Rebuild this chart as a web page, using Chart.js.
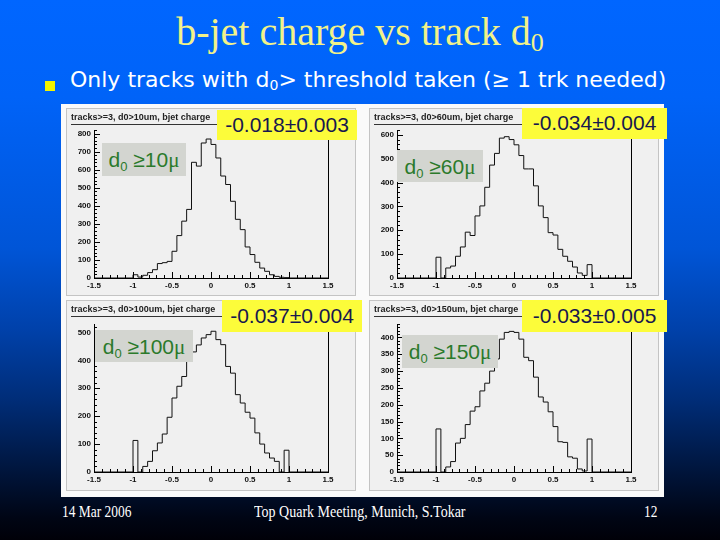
<!DOCTYPE html>
<html lang="en">
<head>
<meta charset="UTF-8" />
<title>b-jet charge vs track d0</title>
<script src="https://cdn.jsdelivr.net/npm/chart.js"></script>
<style>
    body { margin: 0; }
    #slide {
        position: relative; width: 720px; height: 540px; overflow: hidden;
        background: linear-gradient(to bottom, #0066ff 0%, #0063f8 18%, #0055d7 46%, #0041aa 61%, #002d78 74%, #001946 85%, #000514 96%, #000008 100%);
        font-family: "Liberation Sans", Arial, sans-serif;
    }
    .abs { position: absolute; }
    #title {
        left: 0; width: 720px; top: 8px; text-align: center;
        font-family: "Liberation Serif", serif; font-size: 40px; color: #f2f28a;
    }
    #title sub { font-size: 26px; vertical-align: -6px; }
    #bullet { left: 45px; top: 81px; width: 10px; height: 10px; background: #f4f400; }
    #bulletText { left: 70px; top: 67px; font-family: "DejaVu Sans", sans-serif; font-size: 22px; color: #fff; white-space: nowrap; }
    #bulletText sub { font-size: 14px; vertical-align: -3px; }
    #frame { left: 61px; top: 104px; width: 603px; height: 393px; background: #fafafa; }
    .panel { background: #f0f0f0; border: 1px solid #c4c4c4; box-sizing: border-box; }
    .panel canvas { position: absolute; left: 0; top: 0; }
    .ptitle {
        position: absolute; left: 4px; top: 3px; width: 190px; border-bottom: 1px solid #333;
        font-size: 9px; font-weight: bold; color: #222; padding-bottom: 2px; white-space: nowrap;
    }
    .yl { background: #fcfc3a; color: #18184e; font-size: 21px; text-align: center; line-height: 30px; }
    .gl { background: #d3d5d0; color: #2b7a2b; font-size: 21px; text-align: center; line-height: 33px; white-space: nowrap; }
    .gl sub { font-size: 13px; vertical-align: -4px; }
    .gl i { font-style: normal; font-family: "Liberation Serif", serif; }
    .foot { top: 503px; font-family: "Liberation Serif", serif; font-size: 16px; color: #fff; white-space: nowrap; transform-origin: left top; transform: scaleX(0.84); }
</style>
</head>
<body>
<div id="slide">
    <div id="title" class="abs">b-jet charge vs track d<sub>0</sub></div>
    <div id="bullet" class="abs"></div>
    <div id="bulletText" class="abs">Only tracks with d<sub>0</sub>&gt; threshold taken (&ge; 1 trk needed)</div>
    <div id="frame" class="abs"></div>

    <div class="abs panel" style="left:66px;top:108px;width:290px;height:188px;">
        <canvas id="c1" width="290" height="188"></canvas>
        <div class="ptitle">tracks&gt;=3, d0&gt;10um, bjet charge</div>
    </div>
    <div class="abs panel" style="left:369px;top:108px;width:290px;height:188px;">
        <canvas id="c2" width="290" height="188"></canvas>
        <div class="ptitle">tracks&gt;=3, d0&gt;60um, bjet charge</div>
    </div>
    <div class="abs panel" style="left:66px;top:300px;width:290px;height:191px;">
        <canvas id="c3" width="290" height="191"></canvas>
        <div class="ptitle">tracks&gt;=3, d0&gt;100um, bjet charge</div>
    </div>
    <div class="abs panel" style="left:369px;top:300px;width:290px;height:191px;">
        <canvas id="c4" width="290" height="191"></canvas>
        <div class="ptitle">tracks&gt;=3, d0&gt;150um, bjet charge</div>
    </div>

    <div class="abs yl" style="left:217px;top:110px;width:140px;height:30px;">-0.018&plusmn;0.003</div>
    <div class="abs yl" style="left:522px;top:108px;width:145px;height:31px;">-0.034&plusmn;0.004</div>
    <div class="abs yl" style="left:222px;top:300px;width:140px;height:32px;line-height:32px;">-0.037&plusmn;0.004</div>
    <div class="abs yl" style="left:522px;top:300px;width:145px;height:32px;line-height:32px;">-0.033&plusmn;0.005</div>

    <div class="abs gl" style="left:102px;top:143px;width:84px;height:33px;">d<sub>0</sub> &ge;10<i>&mu;</i></div>
    <div class="abs gl" style="left:397px;top:150px;width:86px;height:32px;">d<sub>0</sub> &ge;60<i>&mu;</i></div>
    <div class="abs gl" style="left:95px;top:330px;width:98px;height:32px;">d<sub>0</sub> &ge;100<i>&mu;</i></div>
    <div class="abs gl" style="left:402px;top:335px;width:96px;height:33px;">d<sub>0</sub> &ge;150<i>&mu;</i></div>

    <div class="abs foot" style="left:62px;">14 Mar 2006</div>
    <div class="abs foot" style="left:254px;transform:scaleX(0.875);">Top Quark Meeting, Munich, S.Tokar</div>
    <div class="abs foot" style="left:644px;">12</div>
</div>

<script>
// bin edges of the b-jet charge histograms (32 bins from -1 to 1)
const binEdges = [-1, -0.9375, -0.875, -0.8125, -0.75, -0.6875, -0.625, -0.5625,
    -0.5, -0.4375, -0.375, -0.3125, -0.25, -0.1875, -0.125, -0.0625,
    0, 0.0625, 0.125, 0.1875, 0.25, 0.3125, 0.375, 0.4375,
    0.5, 0.5625, 0.625, 0.6875, 0.75, 0.8125, 0.875, 0.9375, 1];

// entries per bin
const d0_10um = [18, 5, 15, 30, 46, 80, 85, 92, 148, 235, 315, 380, 641, 620, 748, 770,
    740, 665, 565, 518, 425, 325, 268, 172, 130, 87, 55, 37, 18, 9, 4, 2];
const d0_60um = [87, 0, 42, 50, 91, 130, 192, 178, 260, 302, 380, 473, 522, 586, 592, 580,
    558, 513, 457, 457, 386, 302, 253, 190, 180, 120, 91, 70, 46, 21, 11, 56];
const d0_100um = [113, 0, 20, 38, 76, 104, 136, 196, 265, 307, 342, 416, 430, 455, 480, 492,
    504, 474, 456, 378, 354, 277, 247, 214, 193, 140, 100, 68, 50, 38, 0, 78];
const d0_150um = [128, 0, 15, 31, 86, 100, 141, 181, 194, 241, 264, 300, 336, 395, 415, 418,
    415, 395, 341, 331, 282, 223, 208, 179, 135, 90, 88, 45, 41, 9, 3, 98];

// axes
const xRange = [-1.5, 1.5];
const xMajor = [-1.5, -1, -0.5, 0, 0.5, 1, 1.5];
const xMinorStep = 0.1;
const yMax = [820, 620, 530, 440];
const yMajorStep = [100, 100, 100, 50];
const yMinorStep = [20, 20, 20, 10];

Chart.defaults.font.family = '"Liberation Sans", Arial, sans-serif';

// ROOT style ticks pointing into the frame, plus the right frame edge
const rootTicks = {
    id: 'rootTicks',
    afterDraw(chart) {
        const { ctx, chartArea: a, scales } = chart;
        ctx.save();
        ctx.strokeStyle = '#000';
        ctx.lineWidth = 1;
        ctx.beginPath();
        scales.x.ticks.forEach(t => {
            const px = Math.round(scales.x.getPixelForValue(t.value)) + 0.5;
            const len = t.big ? 6 : 3;
            ctx.moveTo(px, a.bottom);
            ctx.lineTo(px, a.bottom - len);
        });
        scales.y.ticks.forEach(t => {
            const py = Math.round(scales.y.getPixelForValue(t.value)) + 0.5;
            const len = t.big ? 6 : 3;
            ctx.moveTo(a.left, py);
            ctx.lineTo(a.left + len, py);
        });
        ctx.moveTo(Math.round(a.right) + 0.5, a.top);
        ctx.lineTo(Math.round(a.right) + 0.5, a.bottom);
        ctx.stroke();
        ctx.restore();
    }
};

function histPoints(vals) {
    const pts = [{ x: xRange[0], y: 0 }];
    vals.forEach((v, i) => pts.push({ x: binEdges[i], y: v }));
    pts.push({ x: binEdges[binEdges.length - 1], y: 0 });
    pts.push({ x: xRange[1], y: 0 });
    return pts;
}

function makeHist(id, vals, k, top, bottom) {
    const ctx = document.getElementById(id).getContext('2d');
    const tickFont = { size: 8, weight: 'bold' };
    return new Chart(ctx, {
        type: 'line',
        data: {
            datasets: [{
                data: histPoints(vals),
                stepped: 'before',
                borderColor: '#111',
                borderWidth: 1,
                pointRadius: 0,
                fill: false
            }]
        },
        options: {
            responsive: false,
            animation: false,
            events: [],
            layout: { padding: { top: top, right: 29, left: 0, bottom: 0 } },
            plugins: { legend: { display: false }, tooltip: { enabled: false } },
            scales: {
                x: {
                    type: 'linear',
                    min: xRange[0], max: xRange[1],
                    grid: { display: false, drawTicks: false },
                    border: { color: '#000', width: 1 },
                    afterBuildTicks: s => {
                        const t = [];
                        for (let i = 0; i <= 30; i++) {
                            const v = Math.round((xRange[0] + i * xMinorStep) * 10) / 10;
                            t.push({ value: v, big: xMajor.includes(v) });
                        }
                        s.ticks = t;
                    },
                    afterFit: s => { s.height = bottom; },
                    ticks: {
                        autoSkip: false, maxRotation: 0, padding: 3,
                        color: '#111', font: tickFont,
                        callback: (v, i, t) => (t[i].big ? String(v) : '')
                    }
                },
                y: {
                    min: 0, max: yMax[k],
                    grid: { display: false, drawTicks: false },
                    border: { color: '#000', width: 1 },
                    afterBuildTicks: s => {
                        const t = [];
                        for (let v = 0; v <= yMax[k]; v += yMinorStep[k]) {
                            t.push({ value: v, big: v % yMajorStep[k] === 0 });
                        }
                        s.ticks = t;
                    },
                    afterFit: s => { s.width = 27; },
                    ticks: {
                        autoSkip: false, padding: 3,
                        color: '#111', font: tickFont,
                        callback: (v, i, t) => (t[i].big ? String(v) : '')
                    }
                }
            }
        },
        plugins: [rootTicks]
    });
}

makeHist('c1', d0_10um, 0, 21, 19);
makeHist('c2', d0_60um, 1, 21, 19);
makeHist('c3', d0_100um, 2, 23, 20);
makeHist('c4', d0_150um, 3, 23, 20);
</script>
</body>
</html>
